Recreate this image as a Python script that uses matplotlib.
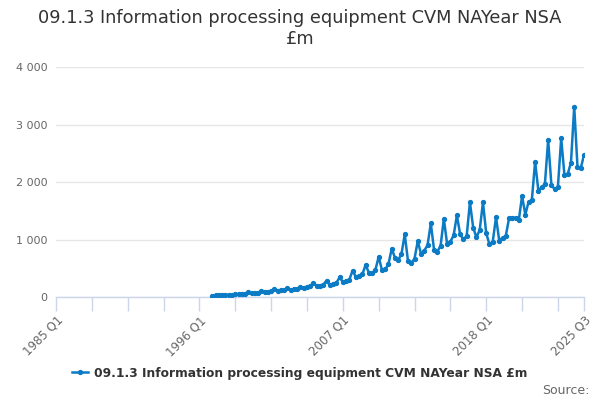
import matplotlib
matplotlib.use("Agg")
import matplotlib.pyplot as plt
import numpy as np

# quarterly values, 1997 Q1 .. 2025 Q3 (£m)
years = list(range(1997, 2026))
values = [
    25, 28, 30, 40,          # 1997
    35, 38, 40, 55,          # 1998
    48, 52, 55, 80,          # 1999
    65, 70, 75, 100,         # 2000
    90, 95, 100, 140,        # 2001
    110, 115, 120, 150,      # 2002
    130, 135, 145, 175,      # 2003
    165, 170, 185, 250,      # 2004
    190, 200, 215, 285,      # 2005
    210, 225, 245, 340,      # 2006
    265, 280, 300, 460,      # 2007
    350, 365, 395, 560,      # 2008
    420, 410, 470, 700,      # 2009
    470, 480, 570, 840,      # 2010
    684, 643, 748, 1090,     # 2011
    626, 591, 667, 974,      # 2012
    748, 806, 904, 1281,     # 2013
    817, 788, 893, 1357,     # 2014
    922, 962, 1073, 1420,    # 2015
    1090, 1003, 1061, 1647,  # 2016
    1206, 1038, 1165, 1647,  # 2017
    1107, 916, 962, 1386,    # 2018
    980, 1032, 1061, 1368,   # 2019
    1380, 1380, 1339, 1757,  # 2020
    1432, 1658, 1687, 2353,  # 2021
    1849, 1907, 1965, 2730,  # 2022
    1948, 1873, 1919, 2759,  # 2023
    2122, 2139, 2336, 3310,  # 2024
    2267, 2238, 2470,        # 2025
]
tick_labels = ["1985 Q1", "1996 Q1", "2007 Q1", "2018 Q1", "2025 Q3"]
y_ticks = [0, 1000, 2000, 3000, 4000]

title = "09.1.3 Information processing equipment CVM NAYear NSA\n£m"
series_name = "09.1.3 Information processing equipment CVM NAYear NSA £m"

# quarter index, 0 = 1985 Q1
start_q = (1997 - 1985) * 4
x = np.arange(start_q, start_q + len(values))
last_q = (2025 - 1985) * 4 + 2

line_col = "#0a7bc4"
axis_col = "#ccd6eb"
grid_col = "#e6e6e6"

fig = plt.figure(figsize=(6, 4), dpi=100)
ax = fig.add_axes([56 / 600, 1 - 297 / 400, 528 / 600, 230 / 400])

ax.plot(x, values, color=line_col, linewidth=1.8, marker="o", markersize=2.8,
        label=series_name, zorder=3)

ax.set_xlim(0, last_q)
ax.set_ylim(0, 4000)

# y axis
ax.set_yticks(y_ticks)
ax.set_yticklabels([f"{v:,}".replace(",", " ") for v in y_ticks],
                   fontsize=8, color="#666666")
ax.tick_params(axis="y", length=0, pad=6)
ax.grid(axis="y", color=grid_col, linewidth=1)
ax.set_axisbelow(True)

# x axis: tick marks every 11 quarters plus the last quarter
xt = list(range(0, last_q, 11)) + [last_q]
lab_pos = {0: tick_labels[0], 44: tick_labels[1], 88: tick_labels[2],
           132: tick_labels[3], last_q: tick_labels[4]}
ax.set_xticks(xt)
ax.set_xticklabels([lab_pos.get(t, "") for t in xt], rotation=45,
                   ha="right", va="top", rotation_mode="anchor",
                   fontsize=8.5, color="#666666")
ax.tick_params(axis="x", length=10, width=1, color=axis_col, pad=2)

for s in ["top", "right", "left"]:
    ax.spines[s].set_visible(False)
ax.spines["bottom"].set_color(axis_col)
ax.spines["bottom"].set_linewidth(1)

fig.suptitle(title, y=0.978, fontsize=12.8, color="#333333", linespacing=1.25)

leg = fig.legend(loc="center", bbox_to_anchor=(0.5, 1 - 373 / 400), frameon=False,
                 handlelength=1.3, handletextpad=0.5,
                 prop={"size": 8.8, "weight": "bold"})
for t in leg.get_texts():
    t.set_color("#333333")

fig.text(0.982, 1 - 390 / 400, "Source:", ha="right", va="center",
         fontsize=9, color="#666666")

fig.savefig("out.png", dpi=100)
